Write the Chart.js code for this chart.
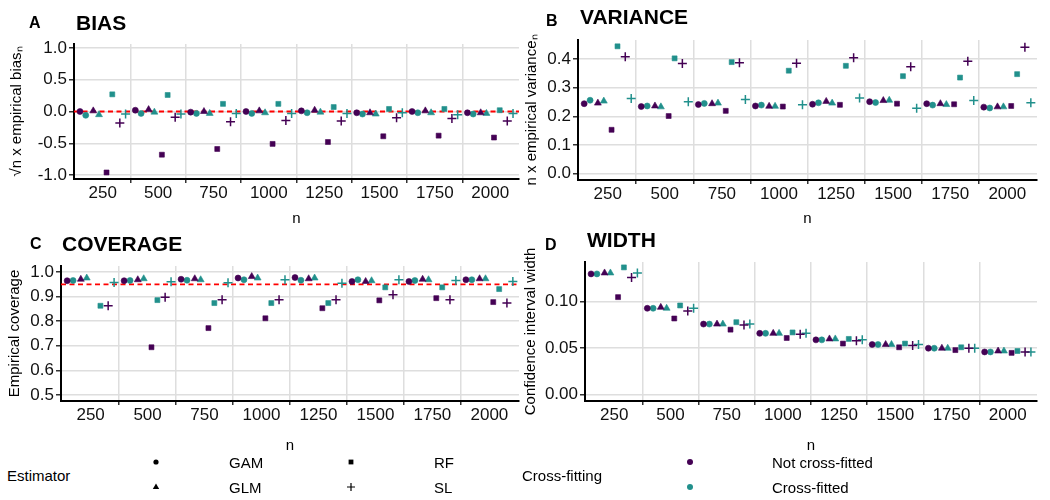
<!DOCTYPE html>
<html>
<head>
<meta charset="utf-8">
<script src="https://cdn.jsdelivr.net/npm/chart.js@4.4.0/dist/chart.umd.min.js"></script>
<style>
  html, body { margin:0; padding:0; background:#fff; }
  body { width:1050px; height:500px; position:relative; overflow:hidden; font-family:"Liberation Sans", Arial, Helvetica, sans-serif; color:#000; }
  .cw { position:absolute; }
  .t { position:absolute; white-space:nowrap; line-height:1; }
  .b { font-weight:bold; }
  .leg { position:absolute; white-space:nowrap; line-height:1; font-size:15px; }
  svg.k { position:absolute; overflow:visible; }
</style>
</head>
<body>
<div class="cw" style="left:0px;top:0px;width:525px;height:228px;"><canvas id="cA" width="525" height="228"></canvas></div>
<div class="cw" style="left:522px;top:0px;width:528px;height:228px;"><canvas id="cB" width="528" height="228"></canvas></div>
<div class="cw" style="left:0px;top:230px;width:525px;height:225px;"><canvas id="cC" width="525" height="225"></canvas></div>
<div class="cw" style="left:522px;top:230px;width:528px;height:225px;"><canvas id="cD" width="528" height="225"></canvas></div>

<div class="t b" style="left:29px;top:15px;font-size:16px;">A</div>
<div class="t b" style="left:76px;top:12px;font-size:21px;">BIAS</div>
<div class="t b" style="left:546px;top:13px;font-size:16px;">B</div>
<div class="t b" style="left:580px;top:6px;font-size:21px;">VARIANCE</div>
<div class="t b" style="left:30px;top:236px;font-size:16px;">C</div>
<div class="t b" style="left:62px;top:233px;font-size:21px;">COVERAGE</div>
<div class="t b" style="left:545px;top:237px;font-size:16px;">D</div>
<div class="t b" style="left:587px;top:229px;font-size:21px;">WIDTH</div>

<div class="leg" style="left:7px;top:468px;">Estimator</div>
<svg class="k" style="left:156px;top:462px;" width="1" height="1"><circle cx="0" cy="0" r="2.6" fill="#000"/></svg>
<svg class="k" style="left:156px;top:487px;" width="1" height="1"><polygon points="0,-3.6 3.2,2 -3.2,2" fill="#000"/></svg>
<div class="leg" style="left:229px;top:455px;">GAM</div>
<div class="leg" style="left:229px;top:480px;">GLM</div>
<svg class="k" style="left:351px;top:462px;" width="1" height="1"><rect x="-2.4" y="-2.4" width="4.8" height="4.8" fill="#000"/></svg>
<svg class="k" style="left:351px;top:487px;" width="1" height="1"><path d="M-4,0 H4 M0,-4 V4" stroke="#000" stroke-width="1.2"/></svg>
<div class="leg" style="left:434px;top:455px;">RF</div>
<div class="leg" style="left:434px;top:480px;">SL</div>
<div class="leg" style="left:522px;top:468px;">Cross-fitting</div>
<svg class="k" style="left:690px;top:462px;" width="1" height="1"><circle cx="0" cy="0" r="3" fill="#440154"/></svg>
<svg class="k" style="left:690px;top:487px;" width="1" height="1"><circle cx="0" cy="0" r="3" fill="#21908C"/></svg>
<div class="leg" style="left:772px;top:455px;">Not cross-fitted</div>
<div class="leg" style="left:772px;top:480px;">Cross-fitted</div>

<script>
// ---------------- data ----------------
const nValues = [250, 500, 750, 1000, 1250, 1500, 1750, 2000];
const xTickLabels = ['250', '500', '750', '1000', '1250', '1500', '1750', '2000'];
const xMinorBreaks = [375, 625, 875, 1125, 1375, 1625, 1875];
const estimators = ['GAM', 'GLM', 'RF', 'SL'];
const crossFitting = ['Not cross-fitted', 'Cross-fitted'];

// A: sqrt(n) x empirical bias
const biasGAM_ncf = [0.00, 0.02, -0.01, 0.00, 0.01, -0.02, 0.00, -0.02];
const biasGAM_cf  = [-0.06, -0.03, -0.03, -0.03, -0.02, -0.04, -0.02, -0.04];
const biasGLM_ncf = [0.01, 0.03, 0.00, 0.01, 0.02, -0.02, 0.01, -0.02];
const biasGLM_cf  = [-0.05, -0.01, -0.03, -0.02, -0.01, -0.04, -0.02, -0.03];
const biasRF_ncf  = [-0.96, -0.68, -0.59, -0.51, -0.48, -0.39, -0.38, -0.41];
const biasRF_cf   = [0.27, 0.26, 0.12, 0.12, 0.07, 0.04, 0.04, 0.02];
const biasSL_ncf  = [-0.18, -0.09, -0.16, -0.14, -0.15, -0.10, -0.11, -0.15];
const biasSL_cf   = [-0.04, -0.04, -0.03, -0.03, -0.03, -0.02, -0.05, -0.03];
const biasTicks = [-1.0, -0.5, 0.0, 0.5, 1.0];
const biasTarget = 0;

// B: n x empirical variance
const varGAM_ncf = [0.244, 0.234, 0.241, 0.236, 0.242, 0.251, 0.244, 0.232];
const varGAM_cf  = [0.256, 0.236, 0.245, 0.239, 0.247, 0.248, 0.239, 0.229];
const varGLM_ncf = [0.246, 0.236, 0.244, 0.235, 0.252, 0.255, 0.244, 0.233];
const varGLM_cf  = [0.253, 0.233, 0.246, 0.235, 0.246, 0.256, 0.241, 0.233];
const varRF_ncf  = [0.153, 0.201, 0.219, 0.234, 0.240, 0.244, 0.242, 0.236];
const varRF_cf   = [0.444, 0.402, 0.389, 0.359, 0.376, 0.340, 0.335, 0.347];
const varSL_ncf  = [0.408, 0.384, 0.387, 0.385, 0.404, 0.373, 0.392, 0.441];
const varSL_cf   = [0.262, 0.251, 0.259, 0.240, 0.264, 0.228, 0.255, 0.247];
const varTicks = [0.0, 0.1, 0.2, 0.3, 0.4];

// C: empirical coverage (RF not cross-fitted at n = 250 lies below the axis limit)
const covGAM_ncf = [0.965, 0.965, 0.971, 0.976, 0.978, 0.962, 0.962, 0.969];
const covGAM_cf  = [0.966, 0.966, 0.967, 0.969, 0.967, 0.969, 0.966, 0.969];
const covGLM_ncf = [0.971, 0.969, 0.973, 0.982, 0.973, 0.962, 0.971, 0.973];
const covGLM_cf  = [0.976, 0.973, 0.969, 0.976, 0.976, 0.965, 0.969, 0.973];
const covRF_ncf  = [null, 0.694, 0.772, 0.812, 0.853, 0.885, 0.894, 0.878];
const covRF_cf   = [0.863, 0.886, 0.874, 0.874, 0.874, 0.938, 0.938, 0.931];
const covSL_ncf  = [0.863, 0.898, 0.887, 0.887, 0.887, 0.908, 0.887, 0.874];
const covSL_cf   = [0.958, 0.961, 0.957, 0.969, 0.955, 0.969, 0.966, 0.962];
const covTicks = [0.5, 0.6, 0.7, 0.8, 0.9, 1.0];
const coverageTarget = 0.95;

// D: confidence interval width
const widGAM_ncf = [0.130, 0.093, 0.076, 0.066, 0.059, 0.054, 0.050, 0.046];
const widGAM_cf  = [0.130, 0.093, 0.076, 0.066, 0.059, 0.054, 0.050, 0.046];
const widGLM_ncf = [0.131, 0.094, 0.076, 0.066, 0.060, 0.054, 0.050, 0.047];
const widGLM_cf  = [0.131, 0.093, 0.076, 0.066, 0.060, 0.054, 0.050, 0.047];
const widRF_ncf  = [0.105, 0.082, 0.070, 0.061, 0.055, 0.051, 0.048, 0.045];
const widRF_cf   = [0.137, 0.096, 0.078, 0.067, 0.060, 0.055, 0.051, 0.047];
const widSL_ncf  = [0.126, 0.090, 0.075, 0.065, 0.058, 0.053, 0.050, 0.046];
const widSL_cf   = [0.131, 0.093, 0.076, 0.066, 0.059, 0.054, 0.050, 0.046];
const widTicks = [0.00, 0.05, 0.10];

// ---------------- styling ----------------
const colors = ['#440154', '#21908C'];
const pointStyles = ['circle', 'triangle', 'rect', 'cross'];
const pointRadii = [3, 4, 3.5, 4.5];
const gridGray = '#DEDEDE';
const FONT = '"Liberation Sans", Arial, Helvetica, sans-serif';
const estSpacing = 60, cfSpacing = 26;

function makeDatasets(groups) {
  const ds = [];
  groups.forEach((pair, e) => pair.forEach((vals, c) => {
    const pts = [];
    nValues.forEach((n, i) => {
      if (vals[i] !== null) pts.push({ x: n + (e - 1.5) * estSpacing + (c - 0.5) * cfSpacing, y: vals[i] });
    });
    ds.push({
      label: estimators[e] + ' – ' + crossFitting[c],
      data: pts,
      showLine: false,
      pointStyle: pointStyles[e],
      pointRadius: pointRadii[e],
      pointHoverRadius: pointRadii[e],
      backgroundColor: colors[c],
      borderColor: colors[c],
      borderWidth: e === 3 ? 1.5 : 0.6
    });
  }));
  return ds;
}

const refLinePlugin = {
  id: 'refLine',
  beforeDatasetsDraw(chart, args, opts) {
    if (opts.value === undefined || opts.value === null) return;
    const { ctx, chartArea: a } = chart;
    const py = chart.scales.y.getPixelForValue(opts.value);
    ctx.save();
    ctx.strokeStyle = '#FF0000';
    ctx.lineWidth = 1.8;
    ctx.setLineDash([5, 3.5]);
    ctx.beginPath();
    ctx.moveTo(a.left, py);
    ctx.lineTo(a.right, py);
    ctx.stroke();
    ctx.restore();
  }
};

function makeChart(id, cfg) {
  const xTickValues = nValues.concat(xMinorBreaks).sort((a, b) => a - b);
  const plugins = cfg.ref !== undefined ? [refLinePlugin] : [];
  return new Chart(document.getElementById(id), {
    type: 'scatter',
    data: { datasets: makeDatasets(cfg.groups) },
    plugins: plugins,
    options: {
      responsive: false,
      animation: false,
      devicePixelRatio: 1,
      layout: { padding: { left: 0, top: cfg.padTop, right: cfg.padRight, bottom: 0 } },
      plugins: {
        legend: { display: false },
        tooltip: { enabled: false },
        refLine: { value: cfg.ref }
      },
      scales: {
        x: {
          type: 'linear',
          min: 120, max: 2130,
          afterBuildTicks: s => { s.ticks = xTickValues.map(v => ({ value: v })); },
          afterFit: s => { s.height = cfg.xHeight; },
          ticks: {
            autoSkip: false, maxRotation: 0, padding: cfg.xTickPad,
            font: { family: FONT, size: 17 }, color: '#111',
            callback: v => { const i = nValues.indexOf(v); return i >= 0 ? xTickLabels[i] : ''; }
          },
          grid: {
            color: c => (c.tick && nValues.includes(c.tick.value)) ? 'rgba(0,0,0,0)' : gridGray,
            tickColor: c => (c.tick && nValues.includes(c.tick.value)) ? 'rgba(0,0,0,0)' : '#333',
            lineWidth: 1.5, tickLength: 4, drawTicks: true
          },
          border: { display: true, color: '#000', width: 2 },
          title: { display: true, text: 'n', color: '#000', font: { family: FONT, size: 15 }, padding: { top: cfg.xTitlePad, bottom: 0 } }
        },
        y: {
          type: 'linear',
          min: cfg.yMin, max: cfg.yMax,
          afterBuildTicks: s => { s.ticks = cfg.yTicks.map(v => ({ value: v })); },
          afterFit: s => { s.width = cfg.yWidth; },
          ticks: {
            padding: 2, font: { family: FONT, size: 17 }, color: '#111',
            callback: v => v.toFixed(cfg.yDec)
          },
          grid: { color: gridGray, tickColor: '#333', lineWidth: 1.5, tickLength: 5 },
          border: { display: true, color: '#000', width: 2 },
          title: { display: true, text: cfg.yTitle, color: '#000', font: { family: FONT, size: 15 }, padding: { top: cfg.yTitlePad, bottom: 0 } }
        }
      }
    }
  });
}

makeChart('cA', {
  groups: [[biasGAM_ncf, biasGAM_cf], [biasGLM_ncf, biasGLM_cf], [biasRF_ncf, biasRF_cf], [biasSL_ncf, biasSL_cf]],
  yMin: -1.0625, yMax: 1.0625, yTicks: biasTicks, yDec: 1,
  yTitle: '√n x empirical biasₙ', ref: biasTarget,
  padTop: 44, padRight: 6, yWidth: 74, xHeight: 49, xTickPad: 0, xTitlePad: 1, yTitlePad: 8
});
makeChart('cB', {
  groups: [[varGAM_ncf, varGAM_cf], [varGLM_ncf, varGLM_cf], [varRF_ncf, varRF_cf], [varSL_ncf, varSL_cf]],
  yMin: -0.022, yMax: 0.466, yTicks: varTicks, yDec: 1,
  yTitle: 'n x empirical varianceₙ',
  padTop: 40, padRight: 13, yWidth: 56, xHeight: 48, xTickPad: 0, xTitlePad: 1, yTitlePad: 1
});
makeChart('cC', {
  groups: [[covGAM_ncf, covGAM_cf], [covGLM_ncf, covGLM_cf], [covRF_ncf, covRF_cf], [covSL_ncf, covSL_cf]],
  yMin: 0.475, yMax: 1.025, yTicks: covTicks, yDec: 1,
  yTitle: 'Empirical coverage', ref: coverageTarget,
  padTop: 36, padRight: 3, yWidth: 61, xHeight: 54, xTickPad: 0, xTitlePad: 3, yTitlePad: 6
});
makeChart('cD', {
  groups: [[widGAM_ncf, widGAM_cf], [widGLM_ncf, widGLM_cf], [widRF_ncf, widRF_cf], [widSL_ncf, widSL_cf]],
  yMin: -0.0068, yMax: 0.1428, yTicks: widTicks, yDec: 2,
  yTitle: 'Confidence interval width',
  padTop: 32, padRight: 13, yWidth: 63, xHeight: 54, xTickPad: 0, xTitlePad: 3, yTitlePad: 0
});
</script>
</body>
</html>
